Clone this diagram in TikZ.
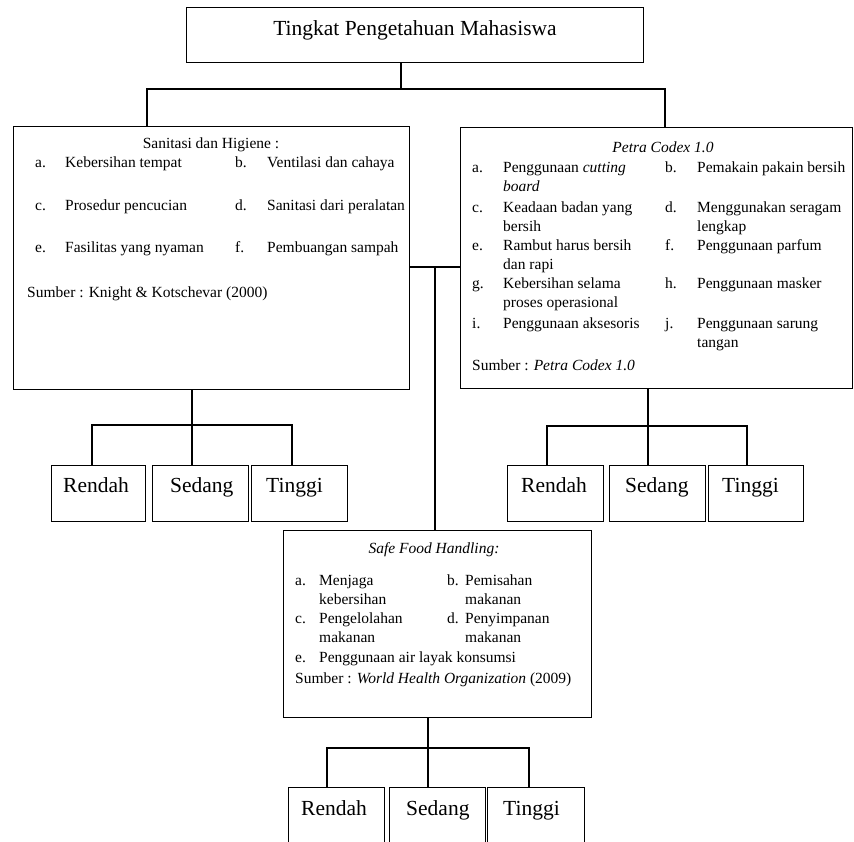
\documentclass[tikz,border=0pt]{standalone}
\usepackage{fontspec}
\setmainfont{Liberation Serif}
\usepackage{tikz}

\newcommand{\butir}[3][31pt]{\begin{tabular}[t]{@{}p{#1}@{}l@{}}#2&#3\end{tabular}}

\begin{document}
\begin{tikzpicture}[x=1pt,y=-1pt,
  kotak/.style={draw,line width=1.2pt,inner sep=0pt,anchor=north west},
  garis/.style={line width=1.2pt},
  isi/.style={inner sep=0pt,anchor=base west,font=\fontsize{15.5}{19}\selectfont},
  kepala/.style={inner sep=0pt,anchor=base,font=\fontsize{15.5}{19}\selectfont},
  besar/.style={inner sep=0pt,anchor=base west,font=\fontsize{21.5}{26}\selectfont}]
\useasboundingbox (0,0) rectangle (854,841);

\node[kotak,minimum width=457pt,minimum height=55pt] (tingkat) at (186,7) {};
\node[besar,anchor=base] (tingkatteks) at (415,35) {Tingkat Pengetahuan Mahasiswa};

\node[kotak,minimum width=396pt,minimum height=263pt] (sanitasi) at (13,126) {};
\node[kepala] (sanitasijudul) at (211,148) {Sanitasi dan Higiene :};
\node[isi] (sa) at (35,167) {\butir[30pt]{a.}{Kebersihan tempat}};
\node[isi] (sb) at (235,167) {\butir[32pt]{b.}{Ventilasi dan cahaya}};
\node[isi] (sc) at (35,210) {\butir[30pt]{c.}{Prosedur pencucian}};
\node[isi] (sd) at (235,210) {\butir[32pt]{d.}{Sanitasi dari peralatan}};
\node[isi] (se) at (35,252) {\butir[30pt]{e.}{Fasilitas yang nyaman}};
\node[isi] (sf) at (235,252) {\butir[32pt]{f.}{Pembuangan sampah}};
\node[isi] (ssumber) at (27,297) {Sumber : Knight \& Kotschevar (2000)};

\node[kotak,minimum width=392pt,minimum height=261pt] (petra) at (460,127) {};
\node[kepala] (petrajudul) at (663,152) {\textit{Petra Codex 1.0}};
\node[isi] (pa) at (472,172) {\butir{a.}{Penggunaan \textit{cutting}\\&\textit{board}}};
\node[isi] (pb) at (665,172) {\butir[32pt]{b.}{Pemakain pakain bersih}};
\node[isi] (pc) at (472,212) {\butir{c.}{Keadaan badan yang\\&bersih}};
\node[isi] (pd) at (665,212) {\butir[32pt]{d.}{Menggunakan seragam\\&lengkap}};
\node[isi] (pe) at (472,250) {\butir{e.}{Rambut harus bersih\\&dan rapi}};
\node[isi] (pf) at (665,250) {\butir[32pt]{f.}{Penggunaan parfum}};
\node[isi] (pg) at (472,288) {\butir{g.}{Kebersihan selama\\&proses operasional}};
\node[isi] (ph) at (665,288) {\butir[32pt]{h.}{Penggunaan masker}};
\node[isi] (pi) at (472,328) {\butir{i.}{Penggunaan aksesoris}};
\node[isi] (pj) at (665,328) {\butir[32pt]{j.}{Penggunaan sarung\\&tangan}};
\node[isi] (psumber) at (472,370) {Sumber : \textit{Petra Codex 1.0}};

\node[kotak,minimum width=308pt,minimum height=187pt] (sfh) at (283,530) {};
\node[kepala] (sfhjudul) at (434,553) {\textit{Safe Food Handling:}};
\node[isi] (fa) at (295,585) {\butir[24pt]{a.}{Menjaga\\&kebersihan}};
\node[isi] (fb) at (447,585) {\butir[18pt]{b.}{Pemisahan\\&makanan}};
\node[isi] (fc) at (295,623) {\butir[24pt]{c.}{Pengelolahan\\&makanan}};
\node[isi] (fd) at (447,623) {\butir[18pt]{d.}{Penyimpanan\\&makanan}};
\node[isi] (fe) at (295,662) {\butir[24pt]{e.}{Penggunaan air layak konsumsi}};
\node[isi] (fsumber) at (295,683) {Sumber : \textit{World Health Organization} (2009)};

\node[kotak,minimum width=94pt,minimum height=56pt] (rendah1) at (51,465) {};
\node[kotak,minimum width=96pt,minimum height=56pt] (sedang1) at (152,465) {};
\node[kotak,minimum width=96pt,minimum height=56pt] (tinggi1) at (251,465) {};
\node[besar] (rendah1teks) at (63,492) {Rendah};
\node[besar] (sedang1teks) at (170,492) {Sedang};
\node[besar] (tinggi1teks) at (266,492) {Tinggi};

\node[kotak,minimum width=96pt,minimum height=56pt] (rendah2) at (507,465) {};
\node[kotak,minimum width=96pt,minimum height=56pt] (sedang2) at (609,465) {};
\node[kotak,minimum width=95pt,minimum height=56pt] (tinggi2) at (708,465) {};
\node[besar] (rendah2teks) at (521,492) {Rendah};
\node[besar] (sedang2teks) at (625,492) {Sedang};
\node[besar] (tinggi2teks) at (722,492) {Tinggi};

\node[kotak,minimum width=96pt,minimum height=56pt] (rendah3) at (288,787) {};
\node[kotak,minimum width=96pt,minimum height=56pt] (sedang3) at (389,787) {};
\node[kotak,minimum width=97pt,minimum height=56pt] (tinggi3) at (487,787) {};
\node[besar] (rendah3teks) at (301,815) {Rendah};
\node[besar] (sedang3teks) at (406,815) {Sedang};
\node[besar] (tinggi3teks) at (503,815) {Tinggi};

\coordinate (c0) at (401,89);
\coordinate (c1) at (147,89);
\coordinate (c2) at (665,89);
\coordinate (c3) at (435,267);
\draw[garis] (c0 |- tingkat.south) -- (c0);
\draw[garis] (c1 |- sanitasi.north) -- (c1) -- (c2) -- (c2 |- petra.north);
\draw[garis] (sanitasi.east |- c3) -- (petra.west |- c3);
\draw[garis] (c3) -- (c3 |- sfh.north);

\coordinate (k1) at (192,425);
\coordinate (k1a) at (92,425);
\coordinate (k1b) at (292,425);
\draw[garis] (k1 |- sanitasi.south) -- (k1 |- sedang1.north);
\draw[garis] (k1a |- rendah1.north) -- (k1a) -- (k1b) -- (k1b |- tinggi1.north);

\coordinate (k2) at (648,426);
\coordinate (k2a) at (547,426);
\coordinate (k2b) at (747,426);
\draw[garis] (k2 |- petra.south) -- (k2 |- sedang2.north);
\draw[garis] (k2a |- rendah2.north) -- (k2a) -- (k2b) -- (k2b |- tinggi2.north);

\coordinate (k3) at (428,748);
\coordinate (k3a) at (327,748);
\coordinate (k3b) at (529,748);
\draw[garis] (k3 |- sfh.south) -- (k3 |- sedang3.north);
\draw[garis] (k3a |- rendah3.north) -- (k3a) -- (k3b) -- (k3b |- tinggi3.north);
\end{tikzpicture}
\end{document}
